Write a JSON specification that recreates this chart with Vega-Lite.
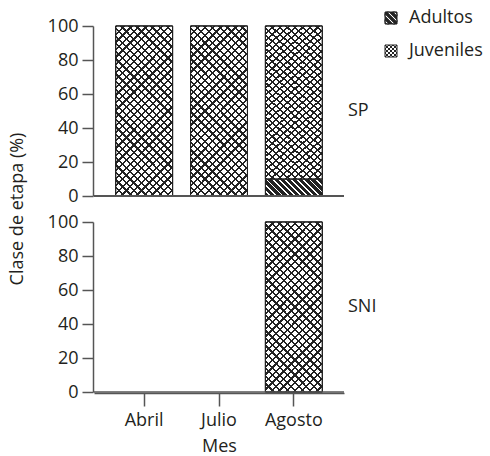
{
 "$schema": "https://vega.github.io/schema/vega-lite/v6.json",
 "padding": {"left": 8, "top": 9, "right": 5, "bottom": 1},
 "data": {"values": [
   {"panel": "SP", "month": "Abril", "stage": "Juveniles", "value": 100},
   {"panel": "SP", "month": "Julio", "stage": "Juveniles", "value": 100},
   {"panel": "SP", "month": "Agosto", "stage": "Adultos", "value": 10},
   {"panel": "SP", "month": "Agosto", "stage": "Juveniles", "value": 90},
   {"panel": "SNI", "month": "Agosto", "stage": "Juveniles", "value": 100}
 ]},
 "transform": [
   {"stack": "value", "groupby": ["panel", "month"], "sort": [{"field": "stage", "order": "ascending"}], "as": ["v0", "v1"]}
 ],
 "facet": {"row": {"field": "panel", "type": "nominal", "sort": ["SP", "SNI"],
   "header": {"title": "Clase de etapa (%)", "titleOrient": "left", "titleFontSize": 18, "titleFontWeight": "normal", "titleColor": "#231f20",
     "labelOrient": "right", "labelAngle": 0, "labelAlign": "right", "labelBaseline": "middle", "labelFontSize": 18, "labelColor": "#231f20", "labelPadding": 3}}},
 "spacing": {"row": 24},
 "spec": {
  "width": 250, "height": 170,
  "encoding": {
   "x": {"field": "month", "type": "nominal", "scale": {"domain": ["Abril", "Julio", "Agosto"], "paddingInner": 0.24, "paddingOuter": 0.29},
     "axis": {"title": "Mes", "labelAngle": 0, "tickSize": 13, "labelPadding": 5, "titlePadding": 8}},
   "y": {"field": "v0", "type": "quantitative", "scale": {"domain": [0, 100]},
     "axis": {"title": null, "values": [0, 20, 40, 60, 80, 100], "tickSize": 11, "labelPadding": 4, "grid": false}},
   "y2": {"field": "v1"}
  },
  "layer": [
   {"mark": {"type": "bar", "stroke": "#222", "strokeWidth": 1},
    "encoding": {
     "fill": {"field": "stage", "type": "nominal",
      "scale": {"domain": ["Adultos", "Juveniles"], "range": ["#222", "#fff"]},
      "legend": {"orient": "none", "legendX": 288, "legendY": -17, "title": null, "labelFontSize": 18, "labelColor": "#231f20",
        "symbolSize": 144, "symbolType": "square", "symbolStrokeColor": "#222", "symbolStrokeWidth": 1, "rowPadding": 15, "labelOffset": 9,
        "encode": {"symbols": {"update": {
          "stroke": {"value": "#222"},
          "strokeWidth": {"value": 1},
          "opacity": {"value": 1},
          "shape": {"signal": "datum.value === 'Juveniles' ? 'M-1,-1H1V1H-1Z M0.33,1L1,0.33 M-0.33,1L1,-0.33 M-1,1L1,-1 M-1,0.33L0.33,-1 M-1,-0.33L-0.33,-1 M0.33,-1L1,-0.33 M-0.33,-1L1,0.33 M-1,-1L1,1 M-1,-0.33L0.33,1 M-1,0.33L-0.33,1' : 'M-1,-1H1V1H-1Z M1,0.7L1,0.3L-0.3,-1L-0.7,-1Z M-1,-0.3L0.3,1L0.7,1L-1,-0.7Z M1,-0.3L1,-0.7L0.7,-1L0.3,-1Z M-1,0.3L-1,0.7L-0.7,1L-0.3,1Z'"}
        }}}}
     }
    }
   },
   {"transform": [{"filter": "datum.stage === 'Adultos'"}],
    "mark": {"type": "bar", "stroke": "#222", "strokeWidth": 1, "fill": {"gradient": "linear", "x1": 0, "y1": 1, "x2": 1.1922, "y2": 0.6444, "stops": [
        {"offset":0,"color":"#222"},{"offset":0.0583,"color":"#222"},{"offset":0.0583,"color":"#fff"},{"offset":0.0833,"color":"#fff"},
        {"offset":0.0833,"color":"#222"},{"offset":0.1417,"color":"#222"},{"offset":0.1417,"color":"#fff"},{"offset":0.1667,"color":"#fff"},
        {"offset":0.1667,"color":"#222"},{"offset":0.225,"color":"#222"},{"offset":0.225,"color":"#fff"},{"offset":0.25,"color":"#fff"},
        {"offset":0.25,"color":"#222"},{"offset":0.3083,"color":"#222"},{"offset":0.3083,"color":"#fff"},{"offset":0.3333,"color":"#fff"},
        {"offset":0.3333,"color":"#222"},{"offset":0.3917,"color":"#222"},{"offset":0.3917,"color":"#fff"},{"offset":0.4167,"color":"#fff"},
        {"offset":0.4167,"color":"#222"},{"offset":0.475,"color":"#222"},{"offset":0.475,"color":"#fff"},{"offset":0.5,"color":"#fff"},
        {"offset":0.5,"color":"#222"},{"offset":0.5583,"color":"#222"},{"offset":0.5583,"color":"#fff"},{"offset":0.5833,"color":"#fff"},
        {"offset":0.5833,"color":"#222"},{"offset":0.6417,"color":"#222"},{"offset":0.6417,"color":"#fff"},{"offset":0.6667,"color":"#fff"},
        {"offset":0.6667,"color":"#222"},{"offset":0.725,"color":"#222"},{"offset":0.725,"color":"#fff"},{"offset":0.75,"color":"#fff"},
        {"offset":0.75,"color":"#222"},{"offset":0.8083,"color":"#222"},{"offset":0.8083,"color":"#fff"},{"offset":0.8333,"color":"#fff"},
        {"offset":0.8333,"color":"#222"},{"offset":0.8917,"color":"#222"},{"offset":0.8917,"color":"#fff"},{"offset":0.9167,"color":"#fff"},
        {"offset":0.9167,"color":"#222"},{"offset":0.975,"color":"#222"},{"offset":0.975,"color":"#fff"},{"offset":1,"color":"#fff"}]}},
    "encoding": {}
   },
   {"transform": [{"filter": "datum.stage === 'Juveniles'"}],
    "mark": {"type": "bar", "stroke": "#222", "strokeWidth": 1, "fill": {"gradient": "linear", "x1": 0, "y1": 0, "x2": 0.4025, "y2": 1.2004, "stops": [
        {"offset":0,"color":"#222"},{"offset":0.01,"color":"#222"},{"offset":0.01,"color":"#fff"},{"offset":0.0333,"color":"#fff"},
        {"offset":0.0333,"color":"#222"},{"offset":0.0433,"color":"#222"},{"offset":0.0433,"color":"#fff"},{"offset":0.0667,"color":"#fff"},
        {"offset":0.0667,"color":"#222"},{"offset":0.0767,"color":"#222"},{"offset":0.0767,"color":"#fff"},{"offset":0.1,"color":"#fff"},
        {"offset":0.1,"color":"#222"},{"offset":0.11,"color":"#222"},{"offset":0.11,"color":"#fff"},{"offset":0.1333,"color":"#fff"},
        {"offset":0.1333,"color":"#222"},{"offset":0.1433,"color":"#222"},{"offset":0.1433,"color":"#fff"},{"offset":0.1667,"color":"#fff"},
        {"offset":0.1667,"color":"#222"},{"offset":0.1767,"color":"#222"},{"offset":0.1767,"color":"#fff"},{"offset":0.2,"color":"#fff"},
        {"offset":0.2,"color":"#222"},{"offset":0.21,"color":"#222"},{"offset":0.21,"color":"#fff"},{"offset":0.2333,"color":"#fff"},
        {"offset":0.2333,"color":"#222"},{"offset":0.2433,"color":"#222"},{"offset":0.2433,"color":"#fff"},{"offset":0.2667,"color":"#fff"},
        {"offset":0.2667,"color":"#222"},{"offset":0.2767,"color":"#222"},{"offset":0.2767,"color":"#fff"},{"offset":0.3,"color":"#fff"},
        {"offset":0.3,"color":"#222"},{"offset":0.31,"color":"#222"},{"offset":0.31,"color":"#fff"},{"offset":0.3333,"color":"#fff"},
        {"offset":0.3333,"color":"#222"},{"offset":0.3433,"color":"#222"},{"offset":0.3433,"color":"#fff"},{"offset":0.3667,"color":"#fff"},
        {"offset":0.3667,"color":"#222"},{"offset":0.3767,"color":"#222"},{"offset":0.3767,"color":"#fff"},{"offset":0.4,"color":"#fff"},
        {"offset":0.4,"color":"#222"},{"offset":0.41,"color":"#222"},{"offset":0.41,"color":"#fff"},{"offset":0.4333,"color":"#fff"},
        {"offset":0.4333,"color":"#222"},{"offset":0.4433,"color":"#222"},{"offset":0.4433,"color":"#fff"},{"offset":0.4667,"color":"#fff"},
        {"offset":0.4667,"color":"#222"},{"offset":0.4767,"color":"#222"},{"offset":0.4767,"color":"#fff"},{"offset":0.5,"color":"#fff"},
        {"offset":0.5,"color":"#222"},{"offset":0.51,"color":"#222"},{"offset":0.51,"color":"#fff"},{"offset":0.5333,"color":"#fff"},
        {"offset":0.5333,"color":"#222"},{"offset":0.5433,"color":"#222"},{"offset":0.5433,"color":"#fff"},{"offset":0.5667,"color":"#fff"},
        {"offset":0.5667,"color":"#222"},{"offset":0.5767,"color":"#222"},{"offset":0.5767,"color":"#fff"},{"offset":0.6,"color":"#fff"},
        {"offset":0.6,"color":"#222"},{"offset":0.61,"color":"#222"},{"offset":0.61,"color":"#fff"},{"offset":0.6333,"color":"#fff"},
        {"offset":0.6333,"color":"#222"},{"offset":0.6433,"color":"#222"},{"offset":0.6433,"color":"#fff"},{"offset":0.6667,"color":"#fff"},
        {"offset":0.6667,"color":"#222"},{"offset":0.6767,"color":"#222"},{"offset":0.6767,"color":"#fff"},{"offset":0.7,"color":"#fff"},
        {"offset":0.7,"color":"#222"},{"offset":0.71,"color":"#222"},{"offset":0.71,"color":"#fff"},{"offset":0.7333,"color":"#fff"},
        {"offset":0.7333,"color":"#222"},{"offset":0.7433,"color":"#222"},{"offset":0.7433,"color":"#fff"},{"offset":0.7667,"color":"#fff"},
        {"offset":0.7667,"color":"#222"},{"offset":0.7767,"color":"#222"},{"offset":0.7767,"color":"#fff"},{"offset":0.8,"color":"#fff"},
        {"offset":0.8,"color":"#222"},{"offset":0.81,"color":"#222"},{"offset":0.81,"color":"#fff"},{"offset":0.8333,"color":"#fff"},
        {"offset":0.8333,"color":"#222"},{"offset":0.8433,"color":"#222"},{"offset":0.8433,"color":"#fff"},{"offset":0.8667,"color":"#fff"},
        {"offset":0.8667,"color":"#222"},{"offset":0.8767,"color":"#222"},{"offset":0.8767,"color":"#fff"},{"offset":0.9,"color":"#fff"},
        {"offset":0.9,"color":"#222"},{"offset":0.91,"color":"#222"},{"offset":0.91,"color":"#fff"},{"offset":0.9333,"color":"#fff"},
        {"offset":0.9333,"color":"#222"},{"offset":0.9433,"color":"#222"},{"offset":0.9433,"color":"#fff"},{"offset":0.9667,"color":"#fff"},
        {"offset":0.9667,"color":"#222"},{"offset":0.9767,"color":"#222"},{"offset":0.9767,"color":"#fff"},{"offset":1,"color":"#fff"}]}},
    "encoding": {}
   },
   {"transform": [{"filter": "datum.stage === 'Juveniles'"}],
    "mark": {"type": "bar", "stroke": "#222", "strokeWidth": 1, "fill": {"gradient": "linear", "x1": 0, "y1": 1, "x2": 0.4025, "y2": -0.2004, "stops": [
        {"offset":0,"color":"#222"},{"offset":0.01,"color":"#222"},{"offset":0.01,"color":"transparent"},{"offset":0.0333,"color":"transparent"},
        {"offset":0.0333,"color":"#222"},{"offset":0.0433,"color":"#222"},{"offset":0.0433,"color":"transparent"},{"offset":0.0667,"color":"transparent"},
        {"offset":0.0667,"color":"#222"},{"offset":0.0767,"color":"#222"},{"offset":0.0767,"color":"transparent"},{"offset":0.1,"color":"transparent"},
        {"offset":0.1,"color":"#222"},{"offset":0.11,"color":"#222"},{"offset":0.11,"color":"transparent"},{"offset":0.1333,"color":"transparent"},
        {"offset":0.1333,"color":"#222"},{"offset":0.1433,"color":"#222"},{"offset":0.1433,"color":"transparent"},{"offset":0.1667,"color":"transparent"},
        {"offset":0.1667,"color":"#222"},{"offset":0.1767,"color":"#222"},{"offset":0.1767,"color":"transparent"},{"offset":0.2,"color":"transparent"},
        {"offset":0.2,"color":"#222"},{"offset":0.21,"color":"#222"},{"offset":0.21,"color":"transparent"},{"offset":0.2333,"color":"transparent"},
        {"offset":0.2333,"color":"#222"},{"offset":0.2433,"color":"#222"},{"offset":0.2433,"color":"transparent"},{"offset":0.2667,"color":"transparent"},
        {"offset":0.2667,"color":"#222"},{"offset":0.2767,"color":"#222"},{"offset":0.2767,"color":"transparent"},{"offset":0.3,"color":"transparent"},
        {"offset":0.3,"color":"#222"},{"offset":0.31,"color":"#222"},{"offset":0.31,"color":"transparent"},{"offset":0.3333,"color":"transparent"},
        {"offset":0.3333,"color":"#222"},{"offset":0.3433,"color":"#222"},{"offset":0.3433,"color":"transparent"},{"offset":0.3667,"color":"transparent"},
        {"offset":0.3667,"color":"#222"},{"offset":0.3767,"color":"#222"},{"offset":0.3767,"color":"transparent"},{"offset":0.4,"color":"transparent"},
        {"offset":0.4,"color":"#222"},{"offset":0.41,"color":"#222"},{"offset":0.41,"color":"transparent"},{"offset":0.4333,"color":"transparent"},
        {"offset":0.4333,"color":"#222"},{"offset":0.4433,"color":"#222"},{"offset":0.4433,"color":"transparent"},{"offset":0.4667,"color":"transparent"},
        {"offset":0.4667,"color":"#222"},{"offset":0.4767,"color":"#222"},{"offset":0.4767,"color":"transparent"},{"offset":0.5,"color":"transparent"},
        {"offset":0.5,"color":"#222"},{"offset":0.51,"color":"#222"},{"offset":0.51,"color":"transparent"},{"offset":0.5333,"color":"transparent"},
        {"offset":0.5333,"color":"#222"},{"offset":0.5433,"color":"#222"},{"offset":0.5433,"color":"transparent"},{"offset":0.5667,"color":"transparent"},
        {"offset":0.5667,"color":"#222"},{"offset":0.5767,"color":"#222"},{"offset":0.5767,"color":"transparent"},{"offset":0.6,"color":"transparent"},
        {"offset":0.6,"color":"#222"},{"offset":0.61,"color":"#222"},{"offset":0.61,"color":"transparent"},{"offset":0.6333,"color":"transparent"},
        {"offset":0.6333,"color":"#222"},{"offset":0.6433,"color":"#222"},{"offset":0.6433,"color":"transparent"},{"offset":0.6667,"color":"transparent"},
        {"offset":0.6667,"color":"#222"},{"offset":0.6767,"color":"#222"},{"offset":0.6767,"color":"transparent"},{"offset":0.7,"color":"transparent"},
        {"offset":0.7,"color":"#222"},{"offset":0.71,"color":"#222"},{"offset":0.71,"color":"transparent"},{"offset":0.7333,"color":"transparent"},
        {"offset":0.7333,"color":"#222"},{"offset":0.7433,"color":"#222"},{"offset":0.7433,"color":"transparent"},{"offset":0.7667,"color":"transparent"},
        {"offset":0.7667,"color":"#222"},{"offset":0.7767,"color":"#222"},{"offset":0.7767,"color":"transparent"},{"offset":0.8,"color":"transparent"},
        {"offset":0.8,"color":"#222"},{"offset":0.81,"color":"#222"},{"offset":0.81,"color":"transparent"},{"offset":0.8333,"color":"transparent"},
        {"offset":0.8333,"color":"#222"},{"offset":0.8433,"color":"#222"},{"offset":0.8433,"color":"transparent"},{"offset":0.8667,"color":"transparent"},
        {"offset":0.8667,"color":"#222"},{"offset":0.8767,"color":"#222"},{"offset":0.8767,"color":"transparent"},{"offset":0.9,"color":"transparent"},
        {"offset":0.9,"color":"#222"},{"offset":0.91,"color":"#222"},{"offset":0.91,"color":"transparent"},{"offset":0.9333,"color":"transparent"},
        {"offset":0.9333,"color":"#222"},{"offset":0.9433,"color":"#222"},{"offset":0.9433,"color":"transparent"},{"offset":0.9667,"color":"transparent"},
        {"offset":0.9667,"color":"#222"},{"offset":0.9767,"color":"#222"},{"offset":0.9767,"color":"transparent"},{"offset":1,"color":"transparent"}]}},
    "encoding": {}
   },
   {"mark": {"type": "rule", "color": "#555", "strokeWidth": 1.5}, "encoding": {"x": null, "y": {"datum": 0}, "y2": null}}
  ]
 },
 "config": {
  "font": "Open Sans",
  "view": {"stroke": null},
  "axis": {"domainColor": "#555", "domainWidth": 1.5, "tickColor": "#555", "tickWidth": 1.5, "labelFontSize": 18, "labelColor": "#231f20", "titleFontSize": 18, "titleFontWeight": "normal", "titleColor": "#231f20"}
 }
}
